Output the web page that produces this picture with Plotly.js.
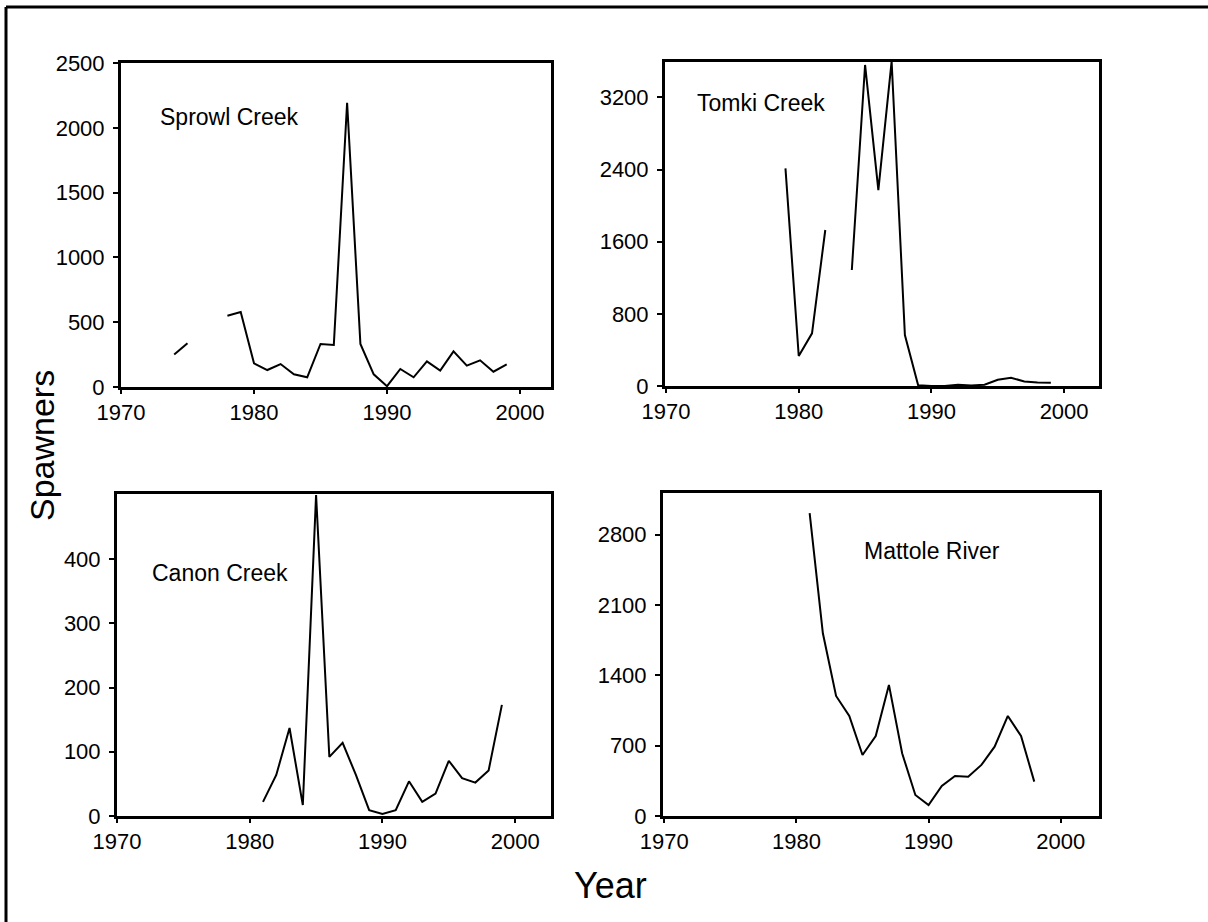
<!DOCTYPE html>
<html>
<head>
<meta charset="utf-8">
<script src="https://cdn.plot.ly/plotly-3.0.1.min.js"></script>
<style>html,body{margin:0;padding:0;background:#fff;}#chart{width:1208px;height:922px;}</style>
</head>
<body>
<div id="chart"></div>
<script>
// ---- data ----
const sprowlYears = [1974,1975,1976,1977,1978,1979,1980,1981,1982,1983,1984,1985,1986,1987,1988,1989,1990,1991,1992,1993,1994,1995,1996,1997,1998,1999];
const sprowlValues = [250,337,null,null,550,578,183,131,177,98,75,332,324,2193,332,98,6,139,75,198,126,275,165,206,118,175];

const tomkiYears = [1979,1980,1981,1982,1983,1984,1985,1986,1987,1988,1989,1990,1991,1992,1993,1994,1995,1996,1997,1998,1999];
const tomkiValues = [2413,333,584,1730,null,1286,3560,2173,3600,565,8,0,0,15,5,15,70,92,50,40,35];

const canonYears = [1981,1982,1983,1984,1985,1986,1987,1988,1989,1990,1991,1992,1993,1994,1995,1996,1997,1998,1999];
const canonValues = [22,64,137,17,500,92,114,64,9,3,9,54,22,35,86,59,52,71,173];

const mattoleYears = [1981,1982,1983,1984,1985,1986,1987,1988,1989,1990,1991,1992,1993,1994,1995,1996,1997,1998];
const mattoleValues = [3013,1818,1194,995,607,796,1304,624,209,109,299,398,391,508,690,995,796,342];

const panelNames = ["Sprowl Creek","Tomki Creek","Canon Creek","Mattole River"];
const xTickVals = [1970,1980,1990,2000];
const sprowlTicks = [0,500,1000,1500,2000,2500];
const tomkiTicks = [0,800,1600,2400,3200];
const canonTicks = [0,100,200,300,400];
const mattoleTicks = [0,700,1400,2100,2800];
const xTitle = "Year";
const yTitle = "Spawners";

// ---- layout helpers ----
const W = 1208, H = 922;
const px = v => v / W;
const py = v => 1 - v / H;
const FONT = "Liberation Sans, Arial, sans-serif";

function trace(x, y, ax) {
  return {x: x, y: y, type: "scatter", mode: "lines", connectgaps: false,
          line: {color: "#000", width: 2}, xaxis: "x" + ax, yaxis: "y" + ax,
          showlegend: false, hoverinfo: "skip"};
}
function xaxis(left, right, range, anchor) {
  return {domain: [px(left), px(right)], range: range, anchor: anchor,
          tickvals: xTickVals, ticks: "outside", ticklen: 4, tickwidth: 2, tickcolor: "#000",
          showline: true, linecolor: "#000", linewidth: 3, mirror: true,
          showgrid: false, zeroline: false,
          tickfont: {family: FONT, size: 22, color: "#000"}};
}
function yaxis(top, bottom, range, ticks, anchor) {
  return {domain: [py(bottom), py(top)], range: range, anchor: anchor,
          tickvals: ticks, ticks: "outside", ticklen: 5, tickwidth: 2, tickcolor: "#000",
          showline: true, linecolor: "#000", linewidth: 3, mirror: true,
          showgrid: false, zeroline: false, ticklabelstandoff: 4,
          tickfont: {family: FONT, size: 22, color: "#000"}};
}

const data = [
  trace(sprowlYears, sprowlValues, ""),
  trace(tomkiYears, tomkiValues, "2"),
  trace(canonYears, canonValues, "3"),
  trace(mattoleYears, mattoleValues, "4")
];

function ann(text, x, y, size, angle) {
  return {text: text, xref: "paper", yref: "paper", x: px(x), y: py(y),
          xanchor: "center", yanchor: "middle", showarrow: false, textangle: angle || 0,
          font: {family: FONT, size: size, color: "#000"}};
}

const layout = {
  width: W, height: H, margin: {l: 0, r: 0, t: 0, b: 0},
  paper_bgcolor: "#fff", plot_bgcolor: "#fff", showlegend: false,
  xaxis:  xaxis(121, 551, [1970, 2002.33], "y"),
  yaxis:  yaxis(63, 387, [0, 2500], sprowlTicks, "x"),
  xaxis2: xaxis(665, 1099, [1969.92, 2002.63], "y2"),
  yaxis2: yaxis(62, 386, [0, 3593], tomkiTicks, "x2"),
  xaxis3: xaxis(117, 551, [1970, 2002.7], "y3"),
  yaxis3: yaxis(494, 816, [0, 501.5], canonTicks, "x3"),
  xaxis4: xaxis(663, 1099, [1969.9, 2002.9], "y4"),
  yaxis4: yaxis(493, 816, [0, 3213], mattoleTicks, "x4"),
  annotations: [
    ann(panelNames[0], 229, 117, 23),
    ann(panelNames[1], 761, 103, 23),
    ann(panelNames[2], 220, 573, 23),
    ann(panelNames[3], 932, 551, 23),
    ann(xTitle, 611, 885, 36),
    ann(yTitle, 42, 446, 34, -90)
  ],
  shapes: [
    {type: "line", xref: "paper", yref: "paper", x0: px(6), x1: px(6), y0: py(7), y1: py(930),
     line: {color: "#000", width: 3}},
    {type: "line", xref: "paper", yref: "paper", x0: px(6), x1: px(1215), y0: py(7), y1: py(7),
     line: {color: "#000", width: 3}}
  ]
};

Plotly.newPlot("chart", data, layout, {staticPlot: true, displayModeBar: false});
</script>
</body>
</html>
